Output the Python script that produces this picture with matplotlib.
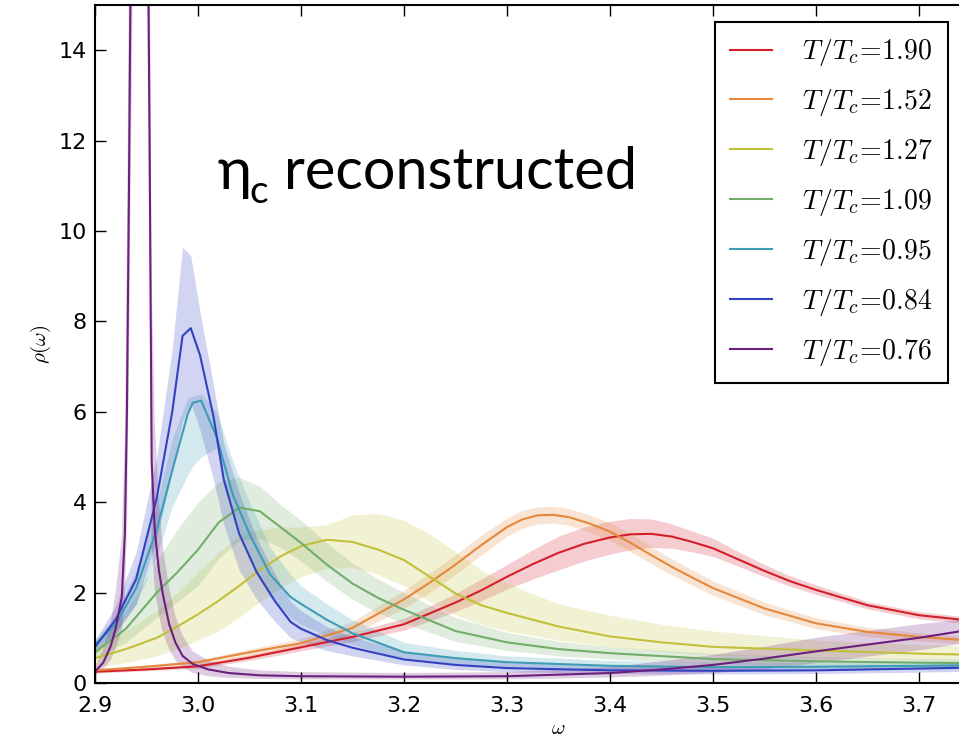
import numpy as np
import matplotlib
matplotlib.use("Agg")
from matplotlib import pyplot as plt

plt.rcParams['mathtext.fontset'] = 'cm'

# spectral functions rho(omega) for each temperature, central value and band
labels = ['1.90', '1.52', '1.27', '1.09', '0.95', '0.84', '0.76']
colors = ['#d31f2a', '#e5883c', '#c2c03a', '#72ad6a', '#3e9cb4', '#3242c0', '#6c1f7c']

w_red = [2.90, 2.95, 3.00, 3.05, 3.10, 3.15, 3.20, 3.25, 3.275, 3.30, 3.325, 3.35, 3.375,
         3.40, 3.42, 3.44, 3.46, 3.48, 3.50, 3.525, 3.55, 3.575, 3.60, 3.65, 3.70, 3.75, 3.80]
rho_red = [0.25, 0.30, 0.37, 0.56, 0.79, 1.02, 1.30, 1.78, 2.05, 2.35, 2.63, 2.88, 3.08,
           3.22, 3.29, 3.30, 3.24, 3.12, 2.98, 2.73, 2.48, 2.25, 2.06, 1.72, 1.50, 1.38, 1.30]
lo_red = [0.22, 0.27, 0.33, 0.50, 0.71, 0.92, 1.17, 1.58, 1.82, 2.08, 2.30, 2.50, 2.70,
          2.85, 2.95, 3.00, 2.98, 2.90, 2.80, 2.58, 2.35, 2.14, 1.96, 1.64, 1.42, 1.31, 1.24]
hi_red = [0.28, 0.33, 0.41, 0.62, 0.87, 1.12, 1.43, 1.98, 2.30, 2.62, 2.95, 3.25, 3.45,
          3.58, 3.64, 3.63, 3.52, 3.36, 3.20, 2.90, 2.62, 2.37, 2.17, 1.80, 1.58, 1.45, 1.37]

w_orange = [2.90, 2.95, 3.00, 3.05, 3.10, 3.15, 3.20, 3.225, 3.25, 3.275, 3.30, 3.315, 3.33,
            3.345, 3.36, 3.38, 3.40, 3.42, 3.44, 3.46, 3.48, 3.50, 3.55, 3.60, 3.65, 3.70,
            3.75, 3.80]
rho_orange = [0.28, 0.36, 0.46, 0.68, 0.88, 1.22, 1.85, 2.22, 2.62, 3.05, 3.45, 3.62, 3.71,
              3.72, 3.67, 3.53, 3.35, 3.10, 2.83, 2.57, 2.33, 2.10, 1.65, 1.32, 1.13, 1.02,
              0.94, 0.90]
lo_orange = [0.25, 0.32, 0.41, 0.61, 0.78, 1.08, 1.65, 2.00, 2.40, 2.83, 3.25, 3.42, 3.52,
             3.54, 3.49, 3.34, 3.15, 2.90, 2.64, 2.39, 2.16, 1.94, 1.51, 1.20, 1.03, 0.93,
             0.86, 0.82]
hi_orange = [0.31, 0.40, 0.51, 0.75, 0.98, 1.36, 2.05, 2.43, 2.84, 3.27, 3.65, 3.82, 3.90,
             3.91, 3.86, 3.72, 3.55, 3.30, 3.02, 2.75, 2.50, 2.26, 1.79, 1.44, 1.23, 1.11,
             1.02, 0.98]

w_yellow = [2.90, 2.93, 2.96, 2.98, 3.00, 3.02, 3.04, 3.06, 3.08, 3.10, 3.125, 3.15, 3.175,
            3.20, 3.225, 3.25, 3.275, 3.30, 3.35, 3.40, 3.45, 3.50, 3.60, 3.70, 3.80]
rho_yellow = [0.55, 0.75, 1.00, 1.25, 1.52, 1.82, 2.15, 2.50, 2.80, 3.03, 3.17, 3.12, 2.95,
              2.72, 2.35, 1.98, 1.72, 1.55, 1.25, 1.03, 0.90, 0.80, 0.72, 0.65, 0.60]
lo_yellow = [0.35, 0.45, 0.60, 0.75, 0.95, 1.15, 1.45, 1.80, 2.10, 2.35, 2.55, 2.55, 2.40,
             2.15, 1.80, 1.50, 1.30, 1.15, 0.95, 0.80, 0.70, 0.62, 0.56, 0.52, 0.50]
hi_yellow = [0.80, 1.15, 1.60, 2.00, 2.45, 2.90, 3.25, 3.40, 3.45, 3.45, 3.50, 3.72, 3.75,
             3.60, 3.30, 2.90, 2.50, 2.20, 1.75, 1.50, 1.30, 1.15, 0.95, 0.85, 0.78]

w_green = [2.90, 2.93, 2.96, 2.98, 3.00, 3.02, 3.04, 3.06, 3.08, 3.10, 3.125, 3.15, 3.175,
           3.20, 3.25, 3.30, 3.35, 3.40, 3.50, 3.60, 3.70, 3.80]
rho_green = [0.68, 1.20, 2.00, 2.45, 2.95, 3.55, 3.88, 3.80, 3.45, 3.10, 2.62, 2.20, 1.88,
             1.62, 1.15, 0.90, 0.75, 0.66, 0.53, 0.48, 0.45, 0.43]
lo_green = [0.55, 0.90, 1.45, 1.80, 2.15, 2.75, 3.15, 3.20, 3.00, 2.70, 2.25, 1.85, 1.55,
            1.32, 0.92, 0.72, 0.60, 0.53, 0.43, 0.39, 0.37, 0.35]
hi_green = [0.85, 1.60, 2.70, 3.40, 4.00, 4.45, 4.55, 4.35, 3.95, 3.60, 3.10, 2.65, 2.30,
            2.00, 1.45, 1.12, 0.92, 0.80, 0.65, 0.58, 0.54, 0.52]

w_teal = [2.90, 2.92, 2.94, 2.96, 2.975, 2.99, 2.995, 3.003, 3.018, 3.034, 3.05, 3.07, 3.09,
          3.10, 3.125, 3.15, 3.20, 3.25, 3.30, 3.40, 3.50, 3.60, 3.70, 3.80]
rho_teal = [0.85, 1.30, 2.10, 3.40, 4.70, 5.95, 6.20, 6.25, 5.45, 4.15, 3.30, 2.40, 1.90,
            1.75, 1.40, 1.10, 0.68, 0.55, 0.46, 0.38, 0.35, 0.36, 0.38, 0.40]
lo_teal = [0.75, 1.10, 1.75, 2.80, 3.90, 4.60, 4.80, 5.00, 5.20, 3.70, 2.70, 1.90, 1.45,
           1.30, 1.05, 0.85, 0.52, 0.42, 0.36, 0.30, 0.28, 0.29, 0.31, 0.33]
hi_teal = [0.95, 1.50, 2.50, 4.00, 5.40, 6.30, 6.35, 6.40, 6.00, 4.90, 4.00, 3.00, 2.40,
           2.15, 1.75, 1.40, 0.90, 0.72, 0.60, 0.50, 0.46, 0.46, 0.48, 0.50]

w_blue = [2.90, 2.92, 2.94, 2.96, 2.975, 2.985, 2.993, 3.002, 3.015, 3.025, 3.04, 3.057,
          3.075, 3.09, 3.10, 3.125, 3.15, 3.20, 3.25, 3.30, 3.40, 3.50, 3.60, 3.70, 3.80]
rho_blue = [0.80, 1.40, 2.30, 4.10, 6.00, 7.68, 7.85, 7.25, 5.90, 4.50, 3.30, 2.45, 1.80,
            1.35, 1.20, 0.95, 0.78, 0.52, 0.40, 0.33, 0.28, 0.27, 0.28, 0.32, 0.36]
lo_blue = [0.65, 1.10, 1.75, 3.20, 4.70, 5.80, 6.20, 5.60, 4.50, 3.50, 2.50, 1.85, 1.35,
           1.00, 0.90, 0.72, 0.60, 0.40, 0.30, 0.25, 0.21, 0.20, 0.21, 0.24, 0.28]
hi_blue = [0.95, 1.70, 2.90, 5.00, 7.40, 9.65, 9.45, 8.20, 6.60, 5.30, 4.20, 3.20, 2.40,
           1.80, 1.60, 1.25, 1.02, 0.70, 0.55, 0.45, 0.38, 0.36, 0.37, 0.41, 0.45]

w_purple = [2.90, 2.908, 2.915, 2.92, 2.926, 2.929, 2.931, 2.933, 2.935, 2.94, 2.944, 2.948,
            2.951, 2.953, 2.955, 2.958, 2.962, 2.966, 2.972, 2.978, 2.985, 2.995, 3.01,
            3.03, 3.06, 3.10, 3.20, 3.30, 3.40, 3.45, 3.50, 3.55, 3.60, 3.65, 3.70, 3.75,
            3.80]
rho_purple = [0.25, 0.45, 0.80, 1.20, 1.90, 3.30, 6.00, 11.0, 17.0, 28.0, 32.0, 27.0,
              18.0, 12.0, 4.90, 3.40, 2.50, 1.95, 1.30, 0.90, 0.60, 0.42, 0.30,
              0.22, 0.17, 0.15, 0.14, 0.15, 0.22, 0.30, 0.40, 0.54, 0.70, 0.85, 1.00, 1.18,
              1.35]
lo_purple = [0.18, 0.30, 0.50, 0.75, 1.15, 1.90, 3.50, 7.00, 12.0, 22.0, 26.0, 22.0,
             14.0, 9.0, 3.00, 2.10, 1.50, 1.10, 0.75, 0.50, 0.35, 0.22, 0.15,
             0.11, 0.09, 0.08, 0.08, 0.08, 0.12, 0.16, 0.22, 0.30, 0.44, 0.58, 0.72, 0.90,
             1.05]
hi_purple = [0.35, 0.75, 1.30, 2.00, 3.20, 5.50, 9.5, 16.0, 23.0, 34.0, 38.0, 33.0,
             24.0, 17.0, 9.0, 5.80, 4.00, 3.00, 2.10, 1.50, 1.05, 0.70, 0.50,
             0.36, 0.28, 0.24, 0.22, 0.24, 0.35, 0.48, 0.62, 0.80, 1.00, 1.15, 1.30, 1.42,
             1.55]

series = [
    (w_red, rho_red, lo_red, hi_red),
    (w_orange, rho_orange, lo_orange, hi_orange),
    (w_yellow, rho_yellow, lo_yellow, hi_yellow),
    (w_green, rho_green, lo_green, hi_green),
    (w_teal, rho_teal, lo_teal, hi_teal),
    (w_blue, rho_blue, lo_blue, hi_blue),
    (w_purple, rho_purple, lo_purple, hi_purple),
]

fig = plt.figure(figsize=(9.59, 7.45), dpi=100)
# axes extends past the right border of the figure, like the cropped original
ax = fig.add_axes([95 / 959, 62 / 745, 927 / 959, 678 / 745])

for (w, rho, lo, hi), lab, col in zip(series, labels, colors):
    ax.fill_between(w, lo, hi, color=col, alpha=0.22, linewidth=0)
    ax.plot(w, rho, color=col, linewidth=1.5, label=r'$T/T_c\!=\!%s$' % lab)

ax.set_xlim(2.9, 3.8)
ax.set_ylim(0, 15)
ax.set_xticks(np.arange(2.9, 3.75, 0.1))
ax.set_xticklabels(['2.9', '3.0', '3.1', '3.2', '3.3', '3.4', '3.5', '3.6', '3.7'])
ax.set_yticks(range(0, 15, 2))
ax.tick_params(axis='both', which='major', labelsize=16, direction='in',
               top=True, right=True, length=8, width=1)
ax.tick_params(axis='x', pad=9)
ax.tick_params(axis='y', pad=6)
for s in ax.spines.values():
    s.set_linewidth(1.5)

ax.set_xlabel(r'$\omega$', fontsize=15, labelpad=2)
ax.set_ylabel(r'$\rho(\omega)$', fontsize=15, labelpad=4)

leg = ax.legend(loc='upper right', bbox_to_anchor=(948 / 959, 1 - 22 / 745),
                bbox_transform=fig.transFigure, fontsize=20, fancybox=False,
                edgecolor='black', framealpha=1, handlelength=1.5, handletextpad=1.1,
                labelspacing=0.68, borderpad=0.55, borderaxespad=0)
leg.get_frame().set_linewidth(1.5)

# big annotation
fam = ['Lato', 'Open Sans', 'DejaVu Sans']
fig.text(217 / 959, 1 - 189 / 745, 'η', fontsize=42, family=fam, va='baseline')
fig.text(249 / 959, 1 - 203 / 745, 'c', fontsize=28, family=fam, va='baseline')
fig.text(284 / 959, 1 - 189 / 745, 'reconstructed', fontsize=41.5, family=fam,
         va='baseline')

fig.savefig('out.png', dpi=100)
